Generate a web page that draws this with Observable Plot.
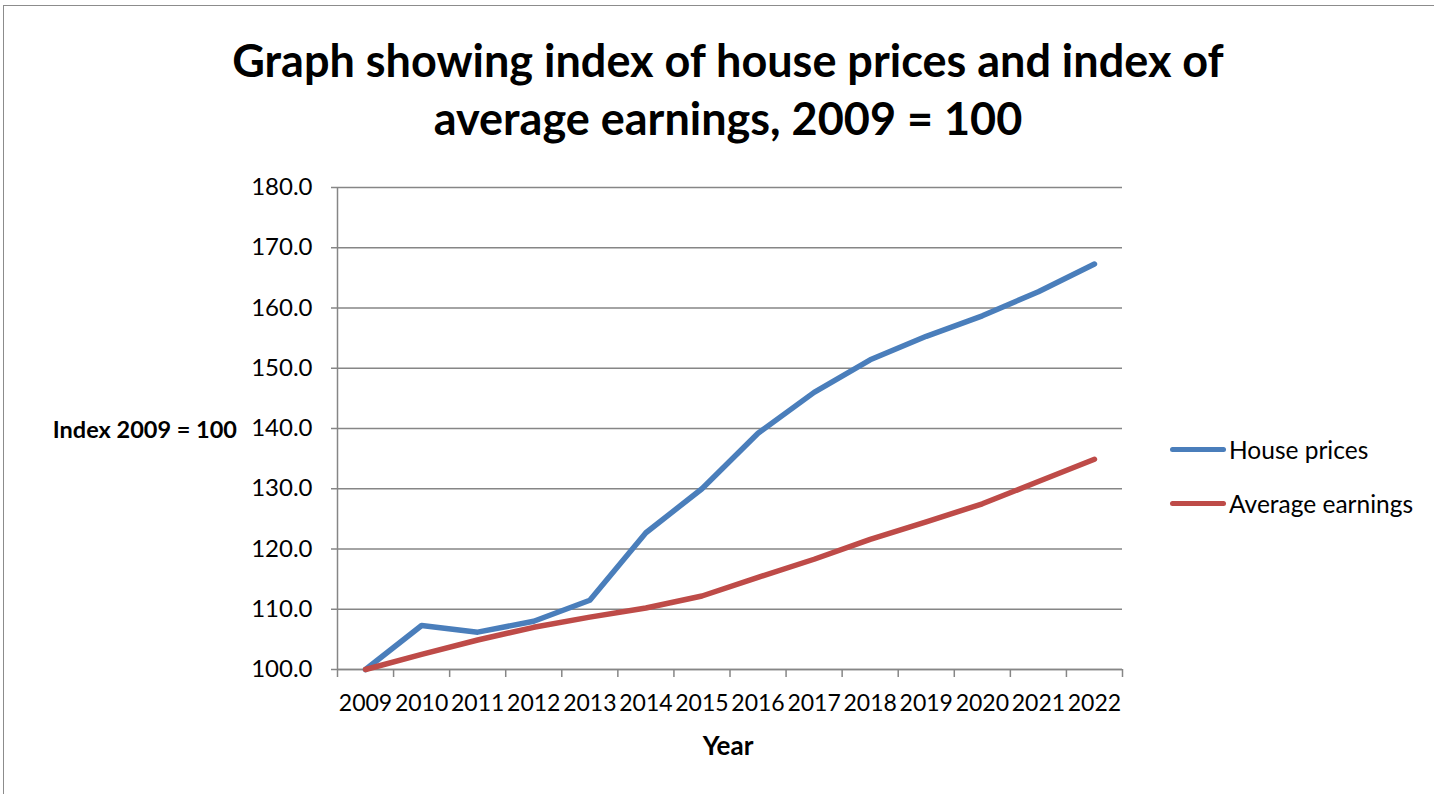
<!DOCTYPE html>
<html>
<head>
<meta charset="utf-8">
<script src="https://cdn.jsdelivr.net/npm/d3@7"></script>
<script src="https://cdn.jsdelivr.net/npm/@observablehq/plot@0.6"></script>
<style>
  html, body { margin: 0; padding: 0; background: #fff; }
  #wrap { position: relative; width: 1434px; height: 794px; overflow: hidden; font-family: Lato, "Open Sans", sans-serif; color: #000; }
  #frame { position: absolute; left: 3px; top: 5px; width: 1500px; height: 900px; border-top: 1.5px solid #8c8c8c; border-left: 1.5px solid #8c8c8c; }
  #title { position: absolute; left: 0; top: 31px; width: 1456px; text-align: center; font-weight: bold; font-size: 45px; line-height: 58px; }
  #ylabel { position: absolute; right: calc(1434px - 237px); top: 415px; font-weight: bold; font-size: 23.5px; white-space: nowrap; }
  #xlabel { position: absolute; left: 0; width: 1456px; text-align: center; top: 729px; font-weight: bold; font-size: 26px; }
  #legend { position: absolute; left: 1170px; top: 433px; font-size: 24.5px; }
  .item { display: flex; align-items: center; height: 32px; margin-bottom: 22px; }
  .sw { width: 56px; height: 5px; border-radius: 3px; margin-right: 3px; }
  #chart { position: absolute; left: 0; top: 0; }
</style>
</head>
<body>
<div id="wrap">
  <div id="frame"></div>
  <div id="chart"></div>
  <div id="title">Graph showing index of house prices and index of<br>average earnings, 2009 = 100</div>
  <div id="ylabel">Index 2009 = 100</div>
  <div id="xlabel">Year</div>
  <div id="legend"></div>
</div>
<script>
// ---- Data ----
const years = [2009, 2010, 2011, 2012, 2013, 2014, 2015, 2016, 2017, 2018, 2019, 2020, 2021, 2022];
const housePrices = [100.0, 107.3, 106.2, 108.0, 111.5, 122.7, 130.0, 139.2, 146.0, 151.4, 155.3, 158.7, 162.7, 167.3];
const averageEarnings = [100.0, 102.5, 104.9, 107.0, 108.7, 110.2, 112.2, 115.3, 118.3, 121.6, 124.5, 127.5, 131.2, 134.9];
const seriesNames = ["House prices", "Average earnings"];
const seriesColors = ["#4A7EBB", "#BE4B48"];
const yTicks = [100, 110, 120, 130, 140, 150, 160, 170, 180];

// ---- Build table ----
const rows = [];
years.forEach((yr, i) => {
  rows.push({year: yr, value: housePrices[i], series: seriesNames[0]});
  rows.push({year: yr, value: averageEarnings[i], series: seriesNames[1]});
});
// category boundaries (Excel-style tick marks between categories)
const boundaries = [years[0] - 0.5, ...years.map(y => y + 0.5)];

const axisColor = "#868686";

const chart = Plot.plot({
  width: 1434,
  height: 794,
  marginLeft: 337,
  marginRight: 312,
  marginTop: 187,
  marginBottom: 125,
  style: { fontFamily: "Lato, 'Open Sans', sans-serif", fontSize: "23px", color: "#000", background: "transparent", overflow: "visible" },
  x: { type: "linear", domain: [boundaries[0], boundaries[boundaries.length - 1]] },
  y: { domain: [100, 180] },
  color: { domain: seriesNames, range: seriesColors },
  marks: [
    Plot.gridY(yTicks, { stroke: axisColor, strokeOpacity: 1, strokeWidth: 1.5 }),
    Plot.axisY(yTicks, { tickFormat: d => d.toFixed(1), tickSize: 6, tickPadding: 19, stroke: axisColor, strokeWidth: 1.5, fill: "#000", label: null, fontSize: 24 }),
    Plot.axisX(boundaries, { tickSize: 8, tickFormat: () => "", stroke: axisColor, strokeWidth: 1.5, label: null }),
    Plot.axisX(years, { tickSize: 0, tickPadding: 25, tickFormat: d => String(d), fill: "#000", label: null, fontSize: 23 }),
    Plot.ruleX([boundaries[0]], { stroke: axisColor, strokeWidth: 1.5 }),
    Plot.ruleY([100], { stroke: axisColor, strokeWidth: 1.5 }),
    Plot.line(rows, { x: "year", y: "value", stroke: "series", strokeWidth: 5.5, strokeLinecap: "round", strokeLinejoin: "round", curve: "linear" })
  ]
});
document.getElementById("chart").appendChild(chart);

// ---- Legend ----
const legend = document.getElementById("legend");
seriesNames.forEach((name, i) => {
  const item = document.createElement("div");
  item.className = "item";
  const sw = document.createElement("div");
  sw.className = "sw";
  sw.style.background = seriesColors[i];
  const label = document.createElement("span");
  label.textContent = name;
  item.appendChild(sw);
  item.appendChild(label);
  legend.appendChild(item);
});
</script>
</body>
</html>
